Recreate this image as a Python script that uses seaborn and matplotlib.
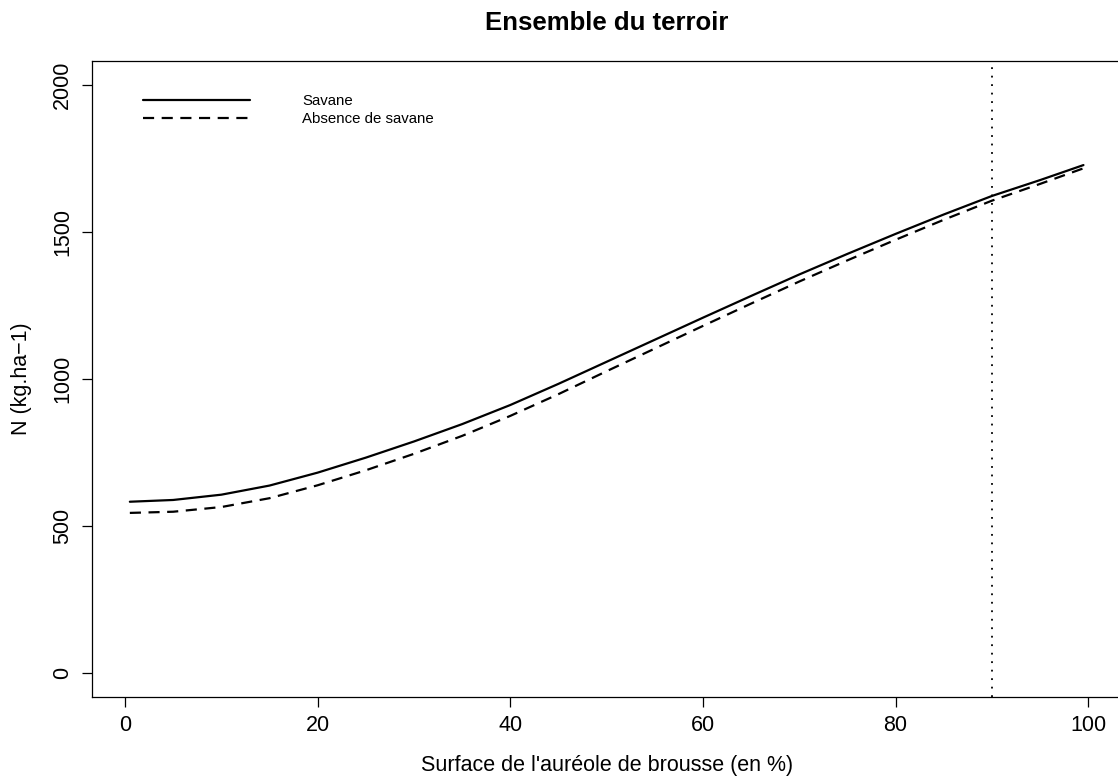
import matplotlib
matplotlib.use("Agg")
import matplotlib.pyplot as plt
import pandas as pd
import seaborn as sns

# Azote total selon la surface de l'auréole de brousse
surface = [0.5, 5, 10, 15, 20, 25, 30, 35, 40, 45, 50, 55, 60, 65, 70, 75,
           80, 85, 90, 95, 99.5]
n_savane = [583, 589, 607, 638, 682, 733, 788, 847, 912, 984, 1059, 1134,
            1209, 1283, 1356, 1426, 1494, 1560, 1623, 1677, 1728]
n_sans_savane = [545, 549, 565, 595, 639, 690, 746, 807, 875, 949, 1027, 1104,
                 1181, 1257, 1332, 1404, 1474, 1542, 1607, 1664, 1717]
x_ticks = [0, 20, 40, 60, 80, 100]
y_ticks = [0, 500, 1000, 1500, 2000]
seuil = 90

sns.set_style("ticks")
plt.rcParams["font.family"] = ["Liberation Sans", "DejaVu Sans"]
plt.rcParams["text.color"] = "black"
plt.rcParams["axes.labelcolor"] = "black"
plt.rcParams["xtick.color"] = "black"
plt.rcParams["ytick.color"] = "black"

W, H = 1118, 778
fig = plt.figure(figsize=(W / 100, H / 100), dpi=100)
left, right, top, bottom = 91.7, 1121.6, 60.7, 696.7
ax = fig.add_axes([left / W, 1 - bottom / H, (right - left) / W, (bottom - top) / H])

df = pd.DataFrame({"surface": surface, "savane": n_savane, "sans": n_sans_savane})

sns.lineplot(data=df, x="surface", y="savane", ax=ax, color="black",
             lw=1.6, label="Savane", solid_joinstyle="round")
sns.lineplot(data=df, x="surface", y="sans", ax=ax, color="black",
             lw=1.6, linestyle=(0, (5, 3.4)), label="Absence de savane")
ax.axvline(seuil, color="black", lw=1.3, linestyle=(0, (1, 3.7)))

ax.set_xlim(-3.46, 103.46)
ax.set_ylim(-80.1, 2083)
ax.set_xticks(x_ticks)
ax.set_xticklabels([str(v) for v in x_ticks])
ax.set_yticks(y_ticks)
ax.set_yticklabels([str(v) for v in y_ticks], rotation=90, va="center")
ax.tick_params(direction="out", length=7.5, width=0.9, colors="black",
               labelsize=15.5)
ax.tick_params(axis="x", pad=6)
ax.tick_params(axis="y", pad=6)
for sp in ax.spines.values():
    sp.set_visible(True)
    sp.set_color("black")
    sp.set_linewidth(0.9)
ax.set_xlabel("")
ax.set_ylabel("")

fig.text(606.6 / W, 1 - 30 / H, "Ensemble du terroir", ha="center",
         va="baseline", fontsize=18.5, fontweight="bold")
fig.text(606.6 / W, 1 - 771 / H, "Surface de l'auréole de brousse (en %)",
         ha="center", va="baseline", fontsize=15.5)
fig.text(27 / W, 1 - 378.7 / H, "N (kg.ha\u22121)", rotation=90,
         rotation_mode="anchor", ha="center", va="baseline", fontsize=15.5)

handles, labels = ax.get_legend_handles_labels()
ax.legend(handles, labels, loc="upper left",
          bbox_to_anchor=(143 / W, 1 - 93.9 / H), bbox_transform=fig.transFigure,
          frameon=False, fontsize=10.8, handlelength=7.13, handletextpad=3.47,
          borderpad=0, borderaxespad=0, labelspacing=0.26)

fig.savefig("out.png", dpi=100)
